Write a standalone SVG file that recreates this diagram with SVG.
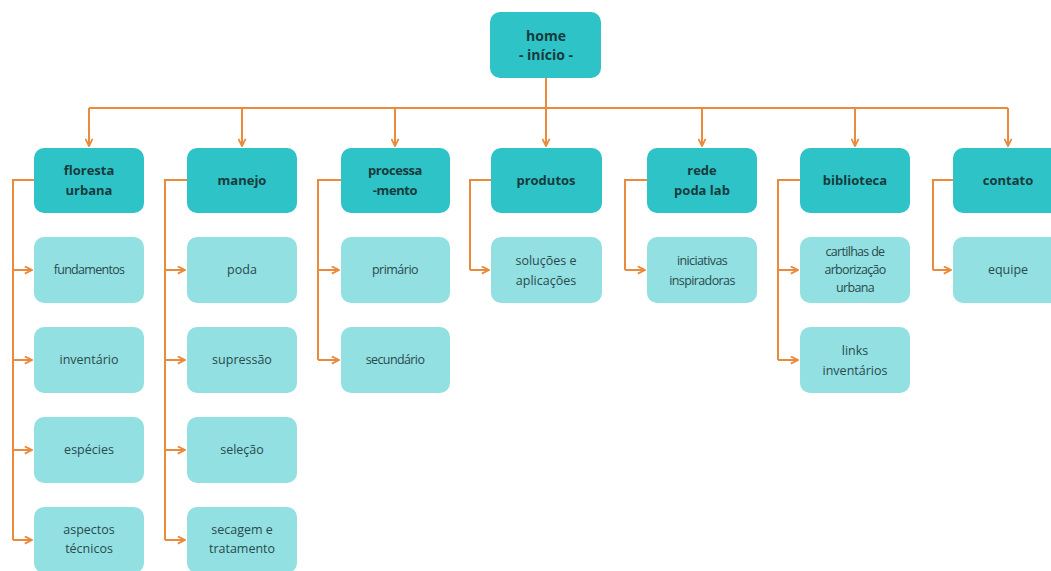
<svg xmlns="http://www.w3.org/2000/svg" width="1051" height="571" viewBox="0 0 1051 571">
<defs>
<marker id="ar" viewBox="0 0 10 10" refX="9" refY="5" markerWidth="9" markerHeight="9" orient="auto" markerUnits="userSpaceOnUse">
<path d="M1,1 L9,5 L1,9" fill="none" stroke="#E98A3C" stroke-width="2"/>
</marker>
<style>
.top{fill:#2EC3C6;}
.sub{fill:#92E0E2;}
.tt{font-family:"Open Sans","Liberation Sans",sans-serif;font-size:13px;font-weight:bold;fill:#173B3D;text-anchor:middle;}
.st{font-family:"Open Sans","Liberation Sans",sans-serif;font-size:12.5px;fill:#2A4A4C;text-anchor:middle;}
.ln{fill:none;stroke:#E98A3C;stroke-width:2;}
.la{fill:none;stroke:#E98A3C;stroke-width:2;marker-end:url(#ar);}
</style>
</defs>
<rect width="1051" height="571" fill="#ffffff"/>
<g id="connectors">
<path class="ln" d="M546,78 V108 M89,108 H1008"/>
<path class="la" d="M89,108 V146"/>
<path class="la" d="M242,108 V146"/>
<path class="la" d="M395,108 V146"/>
<path class="la" d="M546,108 V146"/>
<path class="la" d="M702,108 V146"/>
<path class="la" d="M855,108 V146"/>
<path class="la" d="M1008,108 V146"/>
<path class="ln" d="M34,180 H13 V540"/>
<path class="la" d="M13,270 H32"/><path class="la" d="M13,360 H32"/><path class="la" d="M13,450 H32"/><path class="la" d="M13,540 H32"/>
<path class="ln" d="M187,180 H165 V540"/>
<path class="la" d="M165,270 H185"/><path class="la" d="M165,360 H185"/><path class="la" d="M165,450 H185"/><path class="la" d="M165,540 H185"/>
<path class="ln" d="M341,180 H318 V360"/>
<path class="la" d="M318,270 H339"/><path class="la" d="M318,360 H339"/>
<path class="ln" d="M491,180 H470 V270"/>
<path class="la" d="M470,270 H489"/>
<path class="ln" d="M647,180 H625 V270"/>
<path class="la" d="M625,270 H645"/>
<path class="ln" d="M800,180 H778 V360"/>
<path class="la" d="M778,270 H798"/><path class="la" d="M778,360 H798"/>
<path class="ln" d="M953,180 H933 V270"/>
<path class="la" d="M933,270 H951"/>
</g>
<g id="home"><rect class="top" x="490" y="12" width="111" height="66" rx="10"/><text class="tt" x="546" y="41" style="font-size:14px">home</text><text class="tt" x="546" y="60" style="font-size:14px">- início -</text></g>
<g id="floresta"><rect class="top" x="34" y="148" width="110" height="65" rx="10"/><text class="tt" x="89" y="175">floresta</text><text class="tt" x="89" y="195">urbana</text></g>
<g id="manejo"><rect class="top" x="187" y="148" width="110" height="65" rx="10"/><text class="tt" x="242" y="185">manejo</text></g>
<g id="processamento"><rect class="top" x="341" y="148" width="109" height="65" rx="10"/><text class="tt" x="395" y="175" style="letter-spacing:-0.4px">processa</text><text class="tt" x="395" y="195" style="letter-spacing:-0.4px">-mento</text></g>
<g id="produtos"><rect class="top" x="491" y="148" width="111" height="65" rx="10"/><text class="tt" x="546" y="185">produtos</text></g>
<g id="rede"><rect class="top" x="647" y="148" width="110" height="65" rx="10"/><text class="tt" x="702" y="175">rede</text><text class="tt" x="702" y="195">poda  lab</text></g>
<g id="biblioteca"><rect class="top" x="800" y="148" width="110" height="65" rx="10"/><text class="tt" x="855" y="185">biblioteca</text></g>
<g id="contato"><rect class="top" x="953" y="148" width="110" height="65" rx="10"/><text class="tt" x="1008" y="185">contato</text></g>
<g id="fundamentos"><rect class="sub" x="34" y="237" width="110" height="66" rx="10"/><text class="st" x="89" y="274" style="letter-spacing:-0.7px">fundamentos</text></g>
<g id="inventario"><rect class="sub" x="34" y="327" width="110" height="66" rx="10"/><text class="st" x="89" y="364">inventário</text></g>
<g id="especies"><rect class="sub" x="34" y="417" width="110" height="66" rx="10"/><text class="st" x="89" y="454">espécies</text></g>
<g id="aspectos"><rect class="sub" x="34" y="507" width="110" height="66" rx="10"/><text class="st" x="89" y="534">aspectos</text><text class="st" x="89" y="553">técnicos</text></g>
<g id="poda"><rect class="sub" x="187" y="237" width="110" height="66" rx="10"/><text class="st" x="242" y="274">poda</text></g>
<g id="supressao"><rect class="sub" x="187" y="327" width="110" height="66" rx="10"/><text class="st" x="242" y="364">supressão</text></g>
<g id="selecao"><rect class="sub" x="187" y="417" width="110" height="66" rx="10"/><text class="st" x="242" y="454">seleção</text></g>
<g id="secagem"><rect class="sub" x="187" y="507" width="110" height="66" rx="10"/><text class="st" x="242" y="534">secagem e</text><text class="st" x="242" y="553">tratamento</text></g>
<g id="primario"><rect class="sub" x="341" y="237" width="109" height="66" rx="10"/><text class="st" x="395" y="274" style="letter-spacing:-0.5px">primário</text></g>
<g id="secundario"><rect class="sub" x="341" y="327" width="109" height="66" rx="10"/><text class="st" x="395" y="364" style="letter-spacing:-0.6px">secundário</text></g>
<g id="solucoes"><rect class="sub" x="491" y="237" width="111" height="66" rx="10"/><text class="st" x="546" y="265">soluções  e</text><text class="st" x="546" y="285">aplicações</text></g>
<g id="iniciativas"><rect class="sub" x="647" y="237" width="110" height="66" rx="10"/><text class="st" x="702" y="265" style="letter-spacing:-0.6px">iniciativas</text><text class="st" x="702" y="285" style="letter-spacing:-0.6px">inspiradoras</text></g>
<g id="cartilhas"><rect class="sub" x="800" y="237" width="110" height="66" rx="10"/><text class="st" x="855" y="256" style="letter-spacing:-0.7px">cartilhas de</text><text class="st" x="855" y="274" style="letter-spacing:-0.7px">arborização</text><text class="st" x="855" y="292" style="letter-spacing:-0.7px">urbana</text></g>
<g id="links"><rect class="sub" x="800" y="327" width="110" height="66" rx="10"/><text class="st" x="855" y="355">links</text><text class="st" x="855" y="375">inventários</text></g>
<g id="equipe"><rect class="sub" x="953" y="237" width="110" height="66" rx="10"/><text class="st" x="1008" y="274">equipe</text></g>
</svg>
